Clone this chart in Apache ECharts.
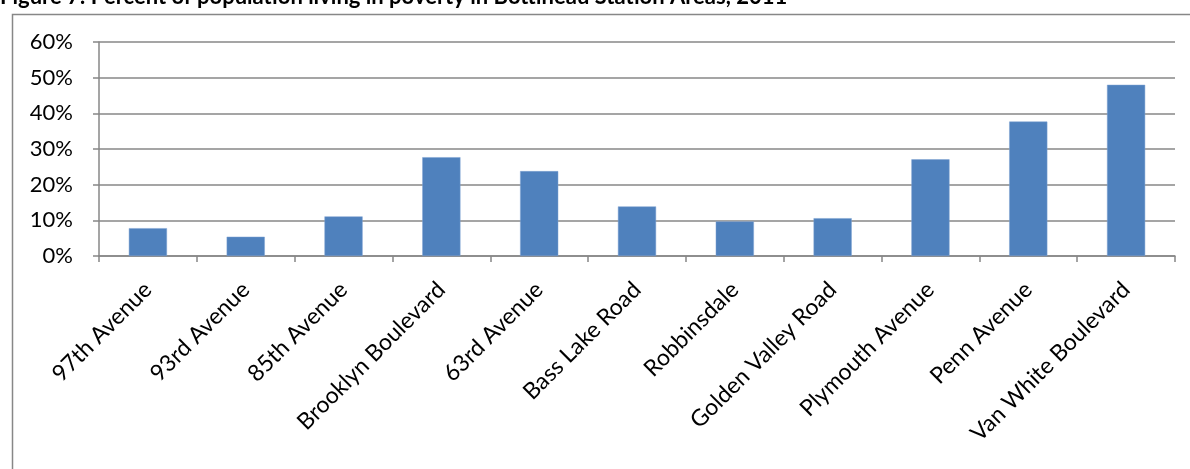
<!DOCTYPE html>
<html>
<head>
<meta charset="utf-8">
<script src="https://cdn.jsdelivr.net/npm/echarts@6/dist/echarts.min.js"></script>
<style>
html,body{margin:0;padding:0;background:#fff;}
#c{width:1190px;height:469px;}
</style>
</head>
<body>
<div id="c"></div>
<script>
const titleText = 'Figure 7: Percent of population living in poverty in Bottineau Station Areas, 2011';
const categories = ['97th Avenue','93rd Avenue','85th Avenue','Brooklyn Boulevard','63rd Avenue','Bass Lake Road','Robbinsdale','Golden Valley Road','Plymouth Avenue','Penn Avenue','Van White Boulevard'];
const povertyPct = [7.8, 5.4, 11.1, 27.7, 23.8, 13.9, 9.7, 10.6, 27.1, 37.7, 48.0];
const yTicks = [0, 10, 20, 30, 40, 50, 60];

const chart = echarts.init(document.getElementById('c'));
const font = 'Lato, "Open Sans", sans-serif';
chart.setOption({
  animation: false,
  graphic: [
    {type:'rect', left:10, top:12, shape:{x:0,y:0,width:1300,height:600}, style:{fill:'none', stroke:'#878787', lineWidth:1.5}, silent:true},
    {type:'text', left:0, top:-14, style:{text:titleText, fontFamily:font, fontWeight:'bold', fontSize:22, fill:'#000'}}
  ],
  grid: {left:99, right:15, top:42, bottom:213, containLabel:false},
  xAxis: {
    type:'category', data:categories, boundaryGap:true,
    axisLine:{show:true, lineStyle:{color:'#878787', width:1.5}},
    axisTick:{show:true, alignWithLabel:false, length:6, lineStyle:{color:'#878787', width:1.5}},
    axisLabel:{rotate:45, interval:0, margin:30, color:'#000', fontFamily:font, fontSize:23}
  },
  yAxis: {
    type:'value', min:yTicks[0], max:yTicks[yTicks.length-1], interval:10,
    axisLine:{show:true, lineStyle:{color:'#878787', width:1.5}},
    axisTick:{show:true, length:6, lineStyle:{color:'#878787', width:1.5}},
    splitLine:{show:true, lineStyle:{color:'#878787', width:1.5}},
    axisLabel:{formatter:'{value}%', margin:26, color:'#000', fontFamily:font, fontSize:22}
  },
  series: [{
    type:'bar', data:povertyPct, barWidth:'39%',
    itemStyle:{color:'#4F81BD', borderColor:'#7FA3D2', borderWidth:0.5}
  }]
});
</script>
</body>
</html>
